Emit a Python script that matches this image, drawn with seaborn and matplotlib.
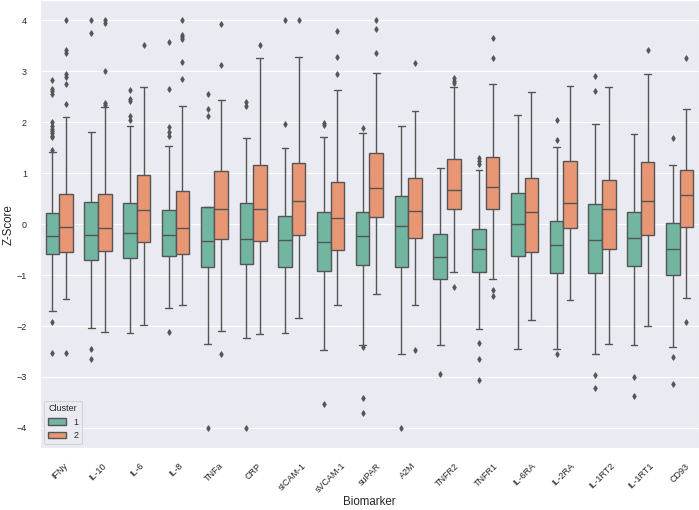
import pandas as pd
import matplotlib
matplotlib.use("Agg")
import matplotlib.pyplot as plt
import seaborn as sns

sns.set_theme(style="darkgrid")
plt.rcParams["font.family"] = ["Liberation Sans", "DejaVu Sans"]

biomarkers = ["IFNy", "IL-10", "IL-6", "IL-8", "TNFa", "CRP", "sICAM-1", "sVCAM-1",
              "suPAR", "A2M", "TNFR2", "TNFR1", "IL-6RA", "IL-2RA", "IL-1RT2", "IL-1RT1", "CD93"]

# cluster 1 box summaries
c1_q1 = [-0.59, -0.71, -0.67, -0.63, -0.84, -0.79, -0.84, -0.91, -0.81, -0.85, -1.08, -0.93, -0.62, -0.96, -0.95, -0.82, -0.99]
c1_med = [-0.24, -0.22, -0.18, -0.22, -0.33, -0.30, -0.31, -0.36, -0.24, -0.03, -0.65, -0.48, 0.01, -0.41, -0.31, -0.27, -0.48]
c1_q3 = [0.21, 0.43, 0.41, 0.27, 0.34, 0.41, 0.16, 0.23, 0.24, 0.55, -0.19, -0.09, 0.61, 0.07, 0.39, 0.24, 0.03]
c1_lo = [-1.71, -2.04, -2.14, -1.64, -2.36, -2.24, -2.13, -2.48, -2.37, -2.55, -2.37, -2.06, -2.46, -2.46, -2.55, -2.37, -2.41]
c1_hi = [1.41, 1.81, 1.92, 1.54, 2.12, 1.69, 1.50, 1.71, 1.79, 1.92, 1.11, 1.07, 2.15, 1.51, 1.97, 1.77, 1.16]
c1_out = [
    [-2.53, -1.93, 1.46, 1.71, 1.74, 1.78, 1.82, 1.87, 1.93, 2.0, 2.56, 2.62, 2.66, 2.82],
    [-2.65, -2.46, 3.76, 4.0],
    [2.05, 2.13, 2.41, 2.45, 2.63],
    [-2.12, 1.73, 1.81, 1.91, 2.65, 3.57],
    [-4.0, 2.26, 2.55],
    [-4.0, 2.31, 2.40],
    [1.96, 4.0],
    [-3.54, 1.95, 1.98],
    [-3.71, -3.41, -2.41, 1.88],
    [-4.0],
    [-2.95],
    [-3.06, -2.64, -2.34, 1.19, 1.23, 1.29],
    [],
    [-2.55, 1.65, 2.04],
    [-3.21, -2.97, 2.61, 2.90],
    [-3.37, -3.01],
    [-3.14, -2.61, 1.69],
]

# cluster 2 box summaries
c2_q1 = [-0.55, -0.53, -0.35, -0.58, -0.29, -0.33, -0.22, -0.50, 0.15, -0.27, 0.29, 0.29, -0.54, -0.07, -0.49, -0.22, -0.05]
c2_med = [-0.05, -0.07, 0.27, -0.08, 0.29, 0.29, 0.46, 0.13, 0.70, 0.26, 0.68, 0.73, 0.23, 0.42, 0.29, 0.45, 0.57]
c2_q3 = [0.60, 0.60, 0.97, 0.65, 1.04, 1.17, 1.21, 0.82, 1.40, 0.90, 1.27, 1.31, 0.90, 1.24, 0.87, 1.22, 1.06]
c2_lo = [-1.47, -2.12, -1.97, -1.59, -2.09, -2.16, -1.85, -1.59, -1.38, -1.59, -0.94, -1.08, -1.88, -1.49, -2.36, -1.99, -1.44]
c2_hi = [2.10, 2.06, 2.69, 2.31, 2.44, 3.27, 3.28, 2.64, 2.97, 2.22, 2.69, 2.75, 2.59, 2.71, 2.69, 2.95, 2.27]
c2_out = [
    [-2.53, 2.36, 2.75, 2.88, 2.94, 3.35, 3.41, 4.0],
    [2.29, 2.33, 2.38, 3.0, 3.95, 4.0],
    [3.51],
    [2.85, 3.18, 3.63, 3.67, 3.72, 4.0],
    [-2.54, 3.13, 3.93],
    [3.51],
    [4.0],
    [2.95, 3.28, 3.80],
    [3.36, 3.84, 4.0],
    [-2.47, 3.16],
    [-1.24, 2.77, 2.81, 2.86],
    [-1.41, -1.29, 3.26, 3.65],
    [],
    [],
    [],
    [3.42],
    [-1.92, 3.27],
]

rows = []
for cluster, q1s, meds, q3s, los, his, outs in [
    ("1", c1_q1, c1_med, c1_q3, c1_lo, c1_hi, c1_out),
    ("2", c2_q1, c2_med, c2_q3, c2_lo, c2_hi, c2_out),
]:
    for i, name in enumerate(biomarkers):
        # rebuild a sample that reproduces the read quartiles, whiskers and fliers
        vals = [los[i]] + [q1s[i]] * 30 + [meds[i]] * 30 + [q3s[i]] * 30 + [his[i]] + outs[i]
        for v in vals:
            rows.append({"Biomarker": name, "Cluster": cluster, "Z-Score": v})
df = pd.DataFrame(rows)

gray = "#555555"
fig, ax = plt.subplots(figsize=(699 / 72, 510 / 72), dpi=72)
fig.subplots_adjust(left=0.057, right=1.0, top=1.0, bottom=0.121)
sns.boxplot(data=df, x="Biomarker", y="Z-Score", hue="Cluster", palette="Set2",
            order=biomarkers, hue_order=["1", "2"], width=0.7, linewidth=1.4,
            linecolor=gray, fliersize=4,
            flierprops={"marker": "d", "markerfacecolor": gray, "markeredgecolor": gray},
            ax=ax)
ax.set_ylim(-4.4, 4.4)
ax.set_xlim(-0.5, len(biomarkers) - 0.5)
ax.tick_params(axis="x", labelsize=9, labelrotation=45, length=0, pad=13)
ax.tick_params(axis="y", labelsize=9, length=0, pad=13)
ax.set_xlabel("Biomarker", fontsize=11.5, labelpad=1)
ax.set_ylabel("Z-Score", fontsize=11.5, labelpad=2)
ax.legend(title="Cluster", loc="lower left", fontsize=9, title_fontsize=9)
fig.savefig("out.png", dpi=72)
